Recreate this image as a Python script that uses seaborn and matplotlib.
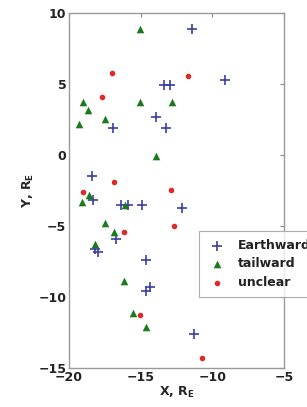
import pandas as pd
import matplotlib
matplotlib.use('Agg')
import matplotlib.pyplot as plt
import seaborn as sns

# positions in Earth radii
earthward_x = [-11.4, -9.1, -13.4, -12.95, -13.9, -13.2, -16.9, -18.4, -18.3, -16.4,
               -15.9, -14.9, -12.1, -16.7, -18.2, -17.95, -14.6, -14.35, -14.6, -11.3]
earthward_y = [8.9, 5.3, 4.9, 4.9, 2.7, 1.9, 1.9, -1.5, -3.2, -3.5,
               -3.5, -3.5, -3.75, -5.9, -6.6, -6.8, -7.4, -9.3, -9.6, -12.6]

tailward_x = [-15.05, -19.0, -18.7, -19.3, -17.5, -15.05, -12.8, -13.9, -18.6, -19.1,
              -16.1, -17.5, -16.85, -18.2, -16.15, -15.55, -14.65]
tailward_y = [8.9, 3.75, 3.2, 2.2, 2.5, 3.7, 3.75, -0.05, -2.8, -3.3,
              -3.5, -4.8, -5.45, -6.3, -8.9, -11.1, -12.15]

unclear_x = [-11.7, -17.0, -17.7, -16.85, -19.0, -12.9, -16.15, -12.7, -15.05, -10.75]
unclear_y = [5.55, 5.8, 4.1, -1.9, -2.6, -2.5, -5.45, -5.0, -11.3, -14.3]

groups = ['Earthward', 'tailward', 'unclear']

df = pd.concat([
    pd.DataFrame({'x': earthward_x, 'y': earthward_y, 'type': 'Earthward'}),
    pd.DataFrame({'x': tailward_x, 'y': tailward_y, 'type': 'tailward'}),
    pd.DataFrame({'x': unclear_x, 'y': unclear_y, 'type': 'unclear'}),
], ignore_index=True)

sns.set_style('white')
plt.rcParams['font.family'] = ['DejaVu Sans']

fig = plt.figure(figsize=(3.07, 4.07), dpi=100)
ax = fig.add_axes([0.225, 0.096, 0.700, 0.872])

styles = {
    'Earthward': dict(marker='+', color='#3d3da6', s=55, linewidth=1.2),
    'tailward': dict(marker='^', color='#1b7a1b', s=30, linewidth=0),
    'unclear': dict(marker='o', color='#e02828', s=16, linewidth=0),
}
for g in groups:
    sns.scatterplot(data=df[df['type'] == g], x='x', y='y', label=g, ax=ax, **styles[g])

ax.set_xlim(-20, -5)
ax.set_ylim(-15, 10)
ax.set_xticks([-20, -15, -10, -5])
ax.set_yticks([-15, -10, -5, 0, 5, 10])
ax.tick_params(direction='in', length=3, width=0.8, color='#888888',
               labelsize=9, pad=2, top=True, right=True)
for lbl in ax.get_xticklabels() + ax.get_yticklabels():
    lbl.set_fontweight('bold')
    lbl.set_color('#222222')
for sp in ax.spines.values():
    sp.set_color('#999999')
    sp.set_linewidth(1.0)

ax.set_xlabel('X, R$_\\mathregular{E}$', fontsize=9, fontweight='bold', labelpad=1)
ax.set_ylabel('Y, R$_\\mathregular{E}$', fontsize=9, fontweight='bold', labelpad=2)

# legend runs past the right edge of the figure, as in the original
leg = ax.legend(loc='upper left', bbox_to_anchor=(0.605, 0.385), frameon=True,
                fancybox=False, fontsize=9, handlelength=1.6, handletextpad=0.9,
                borderpad=0.6, labelspacing=0.45, borderaxespad=0)
leg.get_frame().set_edgecolor('#999999')
leg.get_frame().set_linewidth(0.8)
for t in leg.get_texts():
    t.set_fontweight('bold')
    t.set_color('#222222')

fig.savefig('out.png', dpi=100)
